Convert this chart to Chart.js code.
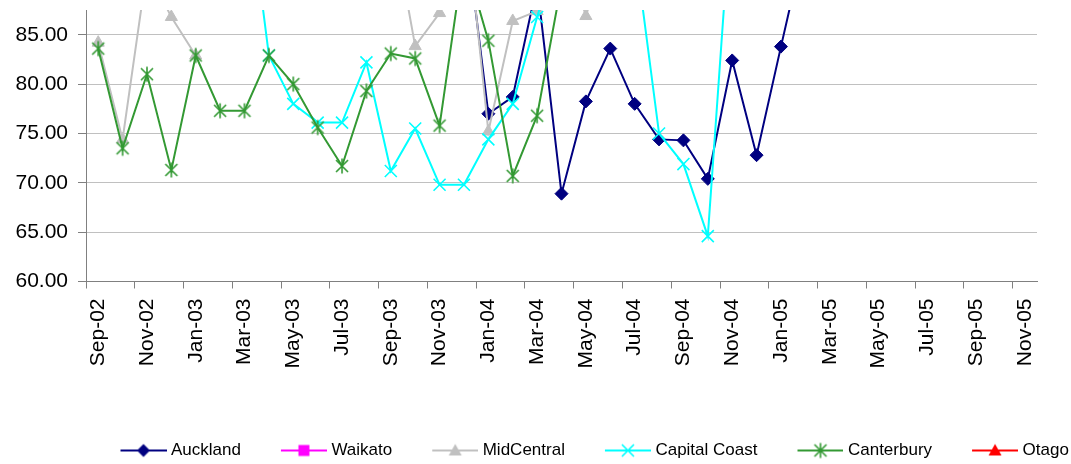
<!DOCTYPE html>
<html>
<head>
<meta charset="utf-8">
<script src="https://cdn.jsdelivr.net/npm/chart.js@4.4.1/dist/chart.umd.min.js"></script>
<style>
html,body{margin:0;padding:0;background:#ffffff;}
#wrap{width:1071px;height:464px;position:relative;}
</style>
</head>
<body>
<div id="wrap"><canvas id="c"></canvas></div>
<script>
// ---------- data ----------
const months = ['Sep-02','Oct-02','Nov-02','Dec-02','Jan-03','Feb-03','Mar-03','Apr-03','May-03','Jun-03',
  'Jul-03','Aug-03','Sep-03','Oct-03','Nov-03','Dec-03','Jan-04','Feb-04','Mar-04','Apr-04',
  'May-04','Jun-04','Jul-04','Aug-04','Sep-04','Oct-04','Nov-04','Dec-04','Jan-05','Feb-05',
  'Mar-05','Apr-05','May-05','Jun-05','Jul-05','Aug-05','Sep-05','Oct-05','Nov-05'];
const N = null;
const auckland = [N,N,N,N,N,N,N,N,N,N,N,N,N,N,N,
  97,77.0,78.7,90.1,68.9,78.25,83.6,78.0,74.4,74.3,70.4,82.4,72.8,83.8,94.6,
  N,N,N,N,N,N,N,N,N];
const waikato = [N,N,N,N,N,N,N,N,N,N,N,N,N,N,N,N,N,N,N,N,N,N,N,N,N,N,N,N,N,N,N,N,N,N,N,N,N,N,N];
const midCentral = [84.2,74.4,91.7,86.8,82.9,N,N,N,N,N,N,N,
  97.5,83.85,87.2,99,75.2,86.4,87.4,95,86.9,95,
  N,N,N,N,N,N,N,N,N,N,N,N,N,N,N,N,N];
const capitalCoast = [N,N,N,N,N,N,
  102.4,82.9,78.0,76.1,76.1,82.2,71.2,75.5,69.8,69.8,74.4,78.0,86.8,95,96,95,94,75.0,71.9,64.6,99.6,
  N,N,N,N,N,N,N,N,N,N,N,N];
const canterbury = [83.6,73.5,81.0,71.3,82.9,77.3,77.3,82.9,80.0,75.6,71.7,79.3,83.1,82.6,75.8,93,84.4,70.7,76.8,90.2,
  N,N,N,N,N,N,N,N,N,N,N,N,N,N,N,N,N,N,N];
const otago = [N,N,N,N,N,N,N,N,N,N,N,N,N,N,N,N,N,N,N,N,N,N,N,N,N,N,N,N,N,N,N,N,N,N,N,N,N,N,N];
const yTicks = [60,65,70,75,80,85];

// ---------- styling helpers ----------
function drawMarker(ctx, type, x, y, color) {
  ctx.save();
  ctx.fillStyle = color; ctx.strokeStyle = color;
  ctx.beginPath();
  if (type === 'diamond') {
    ctx.moveTo(x - 6.5, y); ctx.lineTo(x, y - 6.5); ctx.lineTo(x + 6.5, y); ctx.lineTo(x, y + 6.5);
    ctx.closePath(); ctx.fill();
  } else if (type === 'square') {
    ctx.rect(x - 5.5, y - 5.5, 11, 11); ctx.fill();
  } else if (type === 'triangle') {
    ctx.moveTo(x, y - 6.5); ctx.lineTo(x + 6.5, y + 5); ctx.lineTo(x - 6.5, y + 5);
    ctx.closePath(); ctx.fill();
  } else if (type === 'x') {
    ctx.lineWidth = 1.6;
    ctx.moveTo(x - 6, y - 6); ctx.lineTo(x + 6, y + 6);
    ctx.moveTo(x + 6, y - 6); ctx.lineTo(x - 6, y + 6); ctx.stroke();
  } else if (type === 'star') {
    ctx.lineWidth = 1.6;
    ctx.moveTo(x - 6, y - 6); ctx.lineTo(x + 6, y + 6);
    ctx.moveTo(x + 6, y - 6); ctx.lineTo(x - 6, y + 6);
    ctx.moveTo(x, y - 7.5); ctx.lineTo(x, y + 7.5); ctx.stroke();
  }
  ctx.restore();
}
function markerCanvas(type, color) {
  const c = document.createElement('canvas');
  c.width = 18; c.height = 18;
  drawMarker(c.getContext('2d'), type, 9, 9, color);
  return c;
}
function legendCanvas(type, color) {
  const c = document.createElement('canvas');
  c.width = 50; c.height = 18;
  const g = c.getContext('2d');
  g.strokeStyle = color; g.lineWidth = 2;
  g.beginPath(); g.moveTo(4, 9); g.lineTo(50, 9); g.stroke();
  drawMarker(g, type, 27, 9, color);
  return c;
}

const series = [
  {label:'Auckland', data:auckland, color:'#000080', marker:'diamond', style:'rectRot', radius:6.5},
  {label:'Waikato', data:waikato, color:'#FF00FF', marker:'square', style:'rect', radius:7},
  {label:'MidCentral', data:midCentral, color:'#C0C0C0', marker:'triangle', style:'triangle', radius:7},
  {label:'Capital Coast', data:capitalCoast, color:'#00FFFF', marker:'x', style:'crossRot', radius:8.5},
  {label:'Canterbury', data:canterbury, color:'#339933', marker:'star', style:null, radius:7},
  {label:'Otago', data:otago, color:'#FF0000', marker:'triangle', style:'triangle', radius:7}
];

const datasets = series.map((s, i) => ({
  label: s.label,
  data: s.data,
  borderColor: s.color,
  backgroundColor: s.color,
  borderWidth: 2,
  pointStyle: s.style || markerCanvas(s.marker, s.color),
  pointRadius: s.radius,
  pointBorderWidth: (s.style === 'crossRot') ? 1.6 : 1,
  pointBorderColor: s.color,
  pointBackgroundColor: s.color,
  tension: 0,
  spanGaps: false,
  clip: 0,
  order: series.length - i,
  _legendIcon: legendCanvas(s.marker, s.color)
}));

const legendShift = {
  id: 'legendShift',
  beforeDraw(chart) {
    const lg = chart.legend;
    if (!lg) return;
    const h = lg.bottom - lg.top;
    lg.left = 120.5 - 40; lg.right = lg.left + 3000;
    lg.top = 402; lg.bottom = lg.top + h;
  }
};

Chart.defaults.font.family = '"Liberation Sans", Arial, sans-serif';
Chart.defaults.color = '#000000';

new Chart(document.getElementById('c'), {
  type: 'line',
  data: { labels: months, datasets: datasets },
  plugins: [legendShift],
  options: {
    responsive: true,
    maintainAspectRatio: false,
    animation: false,
    events: [],
    layout: { padding: { top: 7, right: 34, bottom: 0, left: 0 } },
    scales: {
      x: {
        type: 'category',
        offset: true,
        afterFit(scale) { scale.height = 115.5; scale.paddingLeft = 0; scale.paddingRight = 0; },
        border: { display: true, color: '#808080', width: 1 },
        grid: {
          offset: true,
          drawOnChartArea: false,
          drawTicks: true,
          tickLength: 7,
          tickWidth: 1,
          tickColor: (ctx) => (ctx.index !== undefined && ctx.index % 2 === 0) ? '#808080' : 'rgba(0,0,0,0)'
        },
        ticks: {
          autoSkip: false,
          minRotation: 90,
          maxRotation: 90,
          padding: 10,
          font: { size: 21 },
          color: '#000000',
          callback: function(value, index) { return index % 2 === 0 ? months[index] : ''; }
        }
      },
      y: {
        min: 60,
        max: 87.5,
        afterFit(scale) { scale.width = 86; scale.paddingTop = 0; scale.paddingBottom = 0; },
        afterBuildTicks(scale) { scale.ticks = yTicks.map(v => ({ value: v })); },
        border: { display: true, color: '#808080', width: 1 },
        grid: {
          color: '#c0c0c0',
          lineWidth: 1,
          tickLength: 8,
          tickColor: '#808080'
        },
        ticks: {
          padding: 10,
          font: { size: 21 },
          color: '#000000',
          callback: (v) => Number(v).toFixed(2)
        }
      }
    },
    plugins: {
      title: { display: false },
      tooltip: { enabled: false },
      legend: {
        display: true,
        position: 'bottom',
        align: 'start',
        labels: {
          usePointStyle: true,
          pointStyleWidth: 42,
          boxHeight: 17,
          padding: 40,
          font: { size: 17 },
          color: '#000000',
          sort: (a, b) => a.datasetIndex - b.datasetIndex,
          generateLabels(chart) {
            const items = Chart.defaults.plugins.legend.labels.generateLabels(chart);
            items.forEach(it => {
              it.pointStyle = chart.data.datasets[it.datasetIndex]._legendIcon;
              it.rotation = 0;
            });
            return items;
          }
        }
      }
    }
  }
});
</script>
</body>
</html>
